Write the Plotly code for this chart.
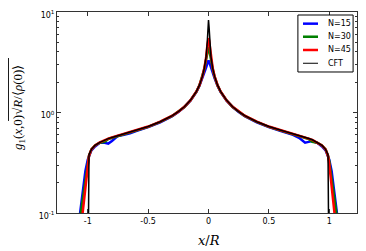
import plotly.graph_objects as go

# |x|/R grid (half axis, increasing)
x_half = [0, 0.005, 0.01, 0.02, 0.035, 0.05, 0.075, 0.1, 0.15, 0.2, 0.25, 0.3, 0.4, 0.5,
          0.6, 0.65, 0.7, 0.75, 0.8, 0.83, 0.86, 0.9, 0.94, 0.97, 0.99, 1.0, 1.02, 1.04, 1.06, 1.08]

# values on the left (x<0) and right (x>0) halves, listed by increasing |x|
n15_left = [3.3, 3.2, 3.05, 2.8, 2.45, 2.2, 1.85, 1.6, 1.31, 1.13, 1.01, 0.92, 0.8, 0.715,
            0.655, 0.62, 0.6, 0.585, 0.52, 0.49, 0.5, 0.5, 0.46, 0.42, 0.37, 0.34, 0.26, 0.17, 0.105, 0.07]
n15_right = [3.3, 3.2, 3.05, 2.8, 2.45, 2.2, 1.85, 1.6, 1.31, 1.13, 1.01, 0.92, 0.8, 0.715,
             0.655, 0.625, 0.6, 0.56, 0.5, 0.51, 0.52, 0.5, 0.46, 0.42, 0.37, 0.34, 0.26, 0.17, 0.105, 0.07]
n30_left = [4.5, 4.3, 3.95, 3.35, 2.7, 2.28, 1.86, 1.61, 1.315, 1.135, 1.015, 0.925, 0.805, 0.72,
            0.66, 0.635, 0.61, 0.585, 0.56, 0.545, 0.51, 0.5, 0.47, 0.43, 0.37, 0.33, 0.22, 0.14, 0.095, 0.065]
n30_right = [4.5, 4.3, 3.95, 3.35, 2.7, 2.28, 1.86, 1.61, 1.315, 1.135, 1.015, 0.925, 0.805, 0.72,
             0.66, 0.635, 0.61, 0.585, 0.56, 0.545, 0.51, 0.5, 0.47, 0.43, 0.37, 0.33, 0.22, 0.14, 0.095, 0.065]
n45_left = [5.5, 5.2, 4.6, 3.5, 2.75, 2.3, 1.87, 1.62, 1.32, 1.14, 1.02, 0.93, 0.81, 0.725,
            0.665, 0.64, 0.615, 0.59, 0.565, 0.55, 0.535, 0.505, 0.47, 0.43, 0.37, 0.31, 0.18, 0.105, 0.065, None]
n45_right = [5.5, 5.2, 4.6, 3.5, 2.75, 2.3, 1.87, 1.62, 1.32, 1.14, 1.02, 0.93, 0.81, 0.725,
             0.665, 0.64, 0.615, 0.59, 0.565, 0.55, 0.535, 0.505, 0.47, 0.43, 0.37, 0.31, 0.18, 0.105, 0.065, None]
cft_left = [8.3, 7.0, 5.1, 3.6, 2.75, 2.3, 1.87, 1.62, 1.32, 1.14, 1.02, 0.93, 0.81, 0.725,
            0.665, 0.64, 0.615, 0.59, 0.565, 0.55, 0.535, 0.505, 0.47, 0.43, 0.38, 0.01, None, None, None, None]
cft_right = [8.3, 7.0, 5.1, 3.6, 2.75, 2.3, 1.87, 1.62, 1.32, 1.14, 1.02, 0.93, 0.81, 0.725,
             0.665, 0.64, 0.615, 0.59, 0.565, 0.55, 0.535, 0.505, 0.47, 0.43, 0.38, 0.01, None, None, None, None]

x_ticks = [-1, -0.5, 0, 0.5, 1]
x_tick_labels = ["-1", "-0.5", "0", "0.5", "1"]
y_ticks = [0.1, 1, 10]
y_tick_labels = ["10<sup>-1</sup>", "10<sup>0</sup>", "10<sup>1</sup>"]
y_minor_ticks = [0.2, 0.3, 0.4, 0.5, 0.6, 0.7, 0.8, 0.9, 2, 3, 4, 5, 6, 7, 8, 9]

series_names = ["N=15", "N=30", "N=45", "CFT"]
series = [
    (n15_left, n15_right, "#0000ff", 2.5),
    (n30_left, n30_right, "#008000", 2.5),
    (n45_left, n45_right, "#ff0000", 2.5),
    (cft_left, cft_right, "#000000", 1.5),
]


def full(left, right):
    xs = [-v for v in reversed(x_half)] + x_half[1:]
    ys = list(reversed(left)) + right[1:]
    return xs, ys


fig = go.Figure()
for name, (yl, yr, col, w) in zip(series_names, series):
    xs, ys = full(yl, yr)
    fig.add_trace(go.Scatter(x=xs, y=ys, mode="lines", name=name, showlegend=False,
                             line=dict(color=col, width=w), connectgaps=False))
# empty trace to carry the minor-tick axis
fig.add_trace(go.Scatter(x=[], y=[], yaxis="y2", showlegend=False, hoverinfo="skip"))

AX = "#333333"
axis_common = dict(showline=True, linecolor=AX, linewidth=1, mirror="ticks",
                   ticks="inside", ticklen=4, tickcolor=AX, showgrid=False, automargin=False,
                   zeroline=False, ticklabeloverflow="allow",
                   tickfont=dict(family="DejaVu Sans", size=8, color="black"))

# the page body adds an 8px offset, so the figure is a bit smaller than the window
fig.update_layout(
    xaxis=dict(range=[-1.255, 1.23], tickvals=x_ticks, ticktext=x_tick_labels, **axis_common),
    yaxis=dict(type="log", range=[-1, 1], tickvals=y_ticks, ticktext=y_tick_labels,
               ticklabelshift=3, **axis_common),
    yaxis2=dict(type="log", range=[-1, 1], overlaying="y", side="left", tickvals=y_minor_ticks,
                showticklabels=False, ticks="inside", ticklen=2, tickcolor=AX, mirror="ticks",
                showline=True, linecolor=AX, linewidth=1, showgrid=False, zeroline=False,
                automargin=False),
    width=358, height=243,
    margin=dict(l=49, r=9, t=4, b=38),
    paper_bgcolor="white", plot_bgcolor="white",
    showlegend=False,
)

# axis titles
fig.add_annotation(text="<i>x</i>/<i>R</i>", xref="paper", yref="paper", x=0.505, y=-0.09,
                   xanchor="center", yanchor="top", showarrow=False,
                   font=dict(family="DejaVu Serif", size=13, color="black"))
fig.add_annotation(text="<i>g</i><sub>1</sub>(<i>x</i>,0)√<i>R</i>/⟨<i>ρ</i>(0)⟩",
                   xref="paper", yref="paper", x=-0.13, y=0.522, textangle=-90,
                   xanchor="center", yanchor="middle", showarrow=False,
                   font=dict(family="Liberation Serif", size=13, color="black"))
# vinculum of the square root
fig.add_shape(type="line", xref="paper", yref="paper", x0=-0.162, x1=-0.162, y0=0.771, y1=0.458,
              line=dict(color="black", width=1))

# legend drawn by hand (matplotlib style)
fig.add_shape(type="rect", xref="paper", yref="paper", x0=0.803, x1=0.987, y0=0.7015, y1=0.985,
              line=dict(color="black", width=1), fillcolor="white", layer="above")
legend_rows = [0.942, 0.877, 0.811, 0.745]
for name, (yl, yr, col, w), yy in zip(series_names, series, legend_rows):
    fig.add_shape(type="line", xref="paper", yref="paper", x0=0.82, x1=0.87, y0=yy, y1=yy,
                  line=dict(color=col, width=w if w > 2 else 1), layer="above")
    fig.add_annotation(text=name, xref="paper", yref="paper", x=0.898, y=yy,
                       xanchor="left", yanchor="middle", showarrow=False,
                       font=dict(family="DejaVu Sans", size=8, color="black"))

fig.write_html("out.html")
